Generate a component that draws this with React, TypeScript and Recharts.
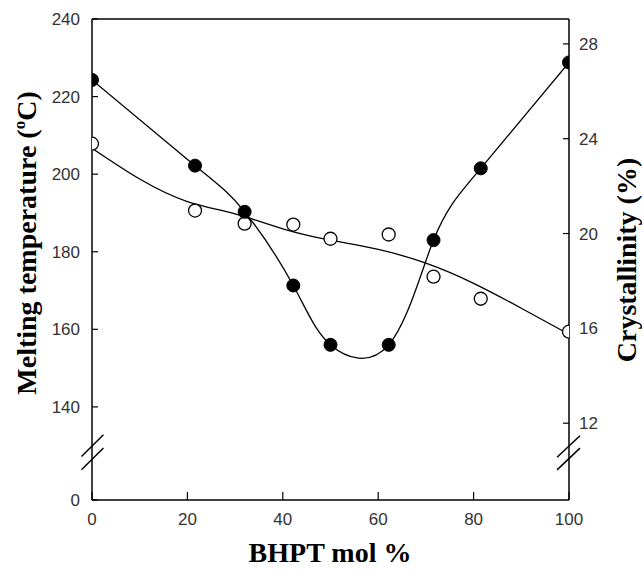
import {
  ComposedChart,
  Line,
  Scatter,
  XAxis,
  YAxis,
  ReferenceLine,
  Label,
} from 'recharts';

// BHPT content (mol %) of the copolymers
const bhpt = [0, 21.6, 32, 42.2, 50, 62.2, 71.6, 81.5, 100];
// filled circles, left axis
const meltingTemp = [224.3, 202.2, 190.3, 171.3, 156, 156, 183, 201.5, 228.8];
// open circles, right axis
const crystallinity = [23.79, 20.97, 20.42, 20.38, 19.78, 19.96, 18.18, 17.25, 15.86];

// fitted trend line for crystallinity
const fitX = [0, 10, 20, 30, 40, 50, 60, 70, 80, 90, 100];
const fitCrystallinity = [23.6, 22.3, 21.35, 20.83, 20.2, 19.72, 19.33, 18.75, 17.9, 16.85, 15.75];

const xTicks = [0, 20, 40, 60, 80, 100];
// 116 stands for the "0" below the axis break
const leftTicks = [116, 140, 160, 180, 200, 220, 240];
const rightTicks = [12, 16, 20, 24, 28];

// axis break marks (data coordinates of each axis)
const leftBreak = [
  [-2.2, 127.2, 2.4, 132.8],
  [-2.2, 123.8, 2.4, 129.4],
];
const rightBreak = [
  [97.5, 10.56, 102.3, 11.47],
  [97.5, 10.03, 102.3, 10.95],
];

const meltData = bhpt.map((x, i) => ({ x, y: meltingTemp[i] }));
const crystData = bhpt.map((x, i) => ({ x, y: crystallinity[i] }));
const fitData = fitX.map((x, i) => ({ x, y: fitCrystallinity[i] }));

const tickStyle = {
  fill: '#333',
  fontSize: 17,
  fontFamily: "'Liberation Sans Narrow', 'Liberation Sans', Arial, sans-serif",
};
const titleFont = "'Liberation Serif', 'Times New Roman', serif";

const FilledDot = (props: any) => (
  <circle cx={props.cx} cy={props.cy} r={6.5} fill="#000" stroke="#000" />
);
const OpenDot = (props: any) => (
  <circle cx={props.cx} cy={props.cy} r={6.5} fill="#fff" stroke="#000" strokeWidth={1.3} />
);

export default function App() {
  return (
    <div style={{ position: 'absolute', left: 0, top: 0, background: '#fff' }}>
      <ComposedChart
        width={642}
        height={573}
        margin={{ top: 19, right: 0, left: 0, bottom: 0 }}
      >
        <XAxis
          type="number"
          dataKey="x"
          domain={[0, 100]}
          ticks={xTicks}
          height={73}
          allowDataOverflow
          stroke="#000"
          axisLine={{ stroke: '#000', strokeWidth: 1.5 }}
          tickLine={{ stroke: '#000', strokeWidth: 1.2 }}
          tickSize={-8}
          tickMargin={21}
          tick={tickStyle}
        >
          <Label
            content={() => (
              <text
                x={330}
                y={562}
                textAnchor="middle"
                fontFamily={titleFont}
                fontWeight="bold"
                fontSize={28}
                fill="#000"
              >
                BHPT mol %
              </text>
            )}
          />
        </XAxis>
        <YAxis
          yAxisId="left"
          type="number"
          dataKey="y"
          domain={[116, 240]}
          ticks={leftTicks}
          width={92}
          allowDataOverflow
          axisLine={{ stroke: '#000', strokeWidth: 1.5 }}
          tickLine={{ stroke: '#000', strokeWidth: 1.2 }}
          tickSize={-6}
          tickMargin={18}
          tick={tickStyle}
          tickFormatter={(v: number) => (v === 116 ? '0' : String(v))}
        >
          <Label
            content={() => (
              <text
                x={36}
                y={243}
                transform="rotate(-90, 36, 243)"
                textAnchor="middle"
                fontFamily={titleFont}
                fontWeight="bold"
                fontSize={28}
                fill="#000"
              >
                Melting temperature (
                <tspan fontSize={17} dy={-11}>o</tspan>
                <tspan dy={11}>C)</tspan>
              </text>
            )}
          />
        </YAxis>
        <YAxis
          yAxisId="right"
          orientation="right"
          type="number"
          dataKey="y"
          domain={[8.76, 29.05]}
          ticks={rightTicks}
          width={73}
          allowDataOverflow
          axisLine={{ stroke: '#000', strokeWidth: 1.5 }}
          tickLine={{ stroke: '#000', strokeWidth: 1.2 }}
          tickSize={-6}
          tickMargin={16}
          tick={tickStyle}
        >
          <Label
            content={() => (
              <text
                x={636}
                y={260}
                transform="rotate(-90, 636, 260)"
                textAnchor="middle"
                fontFamily={titleFont}
                fontWeight="bold"
                fontSize={28}
                fill="#000"
              >
                Crystallinity (%)
              </text>
            )}
          />
        </YAxis>

        {/* top frame line */}
        <ReferenceLine yAxisId="left" y={240} stroke="#000" strokeWidth={1.5} />

        {/* axis breaks */}
        {leftBreak.map((b, i) => (
          <ReferenceLine
            key={'lb' + i}
            yAxisId="left"
            segment={[
              { x: b[0], y: b[1] },
              { x: b[2], y: b[3] },
            ]}
            stroke="#000"
            strokeWidth={1.5}
            ifOverflow="visible"
          />
        ))}
        {rightBreak.map((b, i) => (
          <ReferenceLine
            key={'rb' + i}
            yAxisId="right"
            segment={[
              { x: b[0], y: b[1] },
              { x: b[2], y: b[3] },
            ]}
            stroke="#000"
            strokeWidth={1.5}
            ifOverflow="visible"
          />
        ))}

        <Line
          yAxisId="right"
          data={fitData}
          dataKey="y"
          type="natural"
          stroke="#000"
          strokeWidth={1.3}
          dot={false}
          activeDot={false}
          isAnimationActive={false}
        />
        <Line
          yAxisId="left"
          data={meltData}
          dataKey="y"
          type="natural"
          stroke="#000"
          strokeWidth={1.3}
          dot={false}
          activeDot={false}
          isAnimationActive={false}
        />
        <Scatter
          yAxisId="right"
          data={crystData}
          dataKey="y"
          shape={OpenDot}
          isAnimationActive={false}
        />
        <Scatter
          yAxisId="left"
          data={meltData}
          dataKey="y"
          shape={FilledDot}
          isAnimationActive={false}
        />
      </ComposedChart>
    </div>
  );
}
